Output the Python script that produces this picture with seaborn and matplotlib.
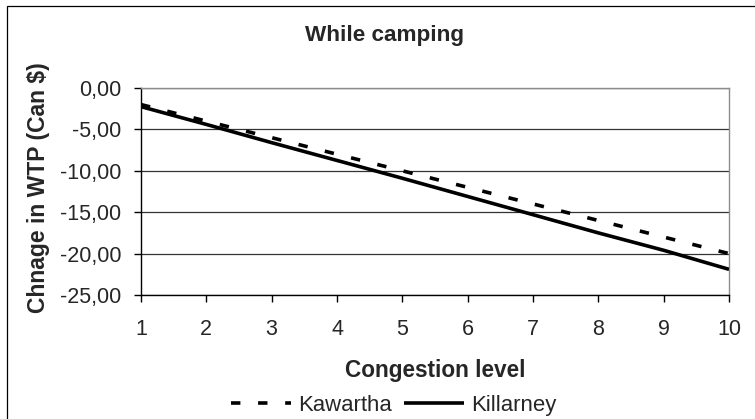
import matplotlib
matplotlib.use("Agg")
import matplotlib.pyplot as plt
from matplotlib.patches import Rectangle
from matplotlib.ticker import FuncFormatter, MultipleLocator
from matplotlib.lines import Line2D
import seaborn as sns
import pandas as pd

# Change in willingness to pay by congestion level
levels = [1, 2, 3, 4, 5, 6, 7, 8, 9, 10]
kawartha = [-2.0, -4.0, -6.0, -8.0, -10.0, -12.0, -14.0, -16.0, -18.0, -20.0]
killarney = [-2.25, -4.4, -6.6, -8.75, -10.9, -13.1, -15.3, -17.5, -19.6, -21.9]
series_names = ["Kawartha", "Killarney"]

df = pd.DataFrame({
    "level": levels * 2,
    "wtp": kawartha + killarney,
    "park": [series_names[0]] * len(levels) + [series_names[1]] * len(levels),
})

sns.set_theme(style="white")
plt.rcParams["font.family"] = ["Liberation Sans", "DejaVu Sans"]

W, H = 755, 419
fig = plt.figure(figsize=(W / 100, H / 100), dpi=100)
ax = fig.add_axes([141 / W, 1 - 295 / H, (729 - 141) / W, (295 - 88) / H])

dash_pat = (2.6, 4.9)
sns.lineplot(
    data=df, x="level", y="wtp", hue="park", style="park",
    palette={"Kawartha": "black", "Killarney": "black"},
    dashes={"Kawartha": dash_pat, "Killarney": ""},
    linewidth=2.6, legend=False, ax=ax, zorder=3,
)
for ln in ax.get_lines():
    ln.set_dash_capstyle("butt")
    ln.set_solid_capstyle("butt")

ax.set_xlim(1, 10)
ax.set_ylim(-25, 0)
ax.xaxis.set_major_locator(MultipleLocator(1))
ax.yaxis.set_major_locator(MultipleLocator(5))


def comma_fmt(v, pos):
    if abs(v) < 1e-9:
        v = 0.0
    return f"{v:.2f}".replace(".", ",")


ax.yaxis.set_major_formatter(FuncFormatter(comma_fmt))
ax.xaxis.set_major_formatter(FuncFormatter(lambda v, p: f"{int(round(v))}"))

ax.grid(axis="y", color="#333333", linewidth=0.9)
ax.grid(axis="x", visible=False)
ax.set_axisbelow(True)

for side in ("left", "bottom"):
    ax.spines[side].set_color("black")
    ax.spines[side].set_linewidth(1.0)
for side in ("top", "right"):
    ax.spines[side].set_color("#8c8c8c")
    ax.spines[side].set_linewidth(1.0)

ax.tick_params(axis="both", which="major", direction="out", length=5,
               width=1.0, color="black", labelsize=15.5, bottom=True, left=True)
ax.tick_params(axis="x", pad=12)
ax.tick_params(axis="y", pad=9)

ax.set_xlabel("")
ax.set_ylabel("")

fig.text(384.5 / W, 1 - 36 / H, "While camping", ha="center", va="center",
         fontsize=16.2, fontweight="bold")
fig.text(435 / W, 1 - 370 / H, "Congestion level", ha="center", va="center",
         fontsize=16.3, fontweight="bold")
fig.text(39 / W, 1 - 188 / H, "Chnage in WTP (Can $)", ha="center", va="center",
         rotation=90, fontsize=16.5, fontweight="bold")

handles = [
    Line2D([], [], color="black", linewidth=2.6, linestyle=(0, dash_pat),
           dash_capstyle="butt"),
    Line2D([], [], color="black", linewidth=2.6, solid_capstyle="butt"),
]
fig.legend(handles, series_names, loc="center", bbox_to_anchor=(394 / W, 1 - 405 / H),
           ncol=2, frameon=False, fontsize=15.9, handlelength=2.7,
           handletextpad=0.35, columnspacing=0.55, borderpad=0, borderaxespad=0)

fig.patches.append(Rectangle((7 / W, -0.1), 1.2, 1 - 6 / H + 0.1,
                             transform=fig.transFigure, fill=False,
                             edgecolor="black", linewidth=0.9))

fig.savefig("out.png", dpi=100)
